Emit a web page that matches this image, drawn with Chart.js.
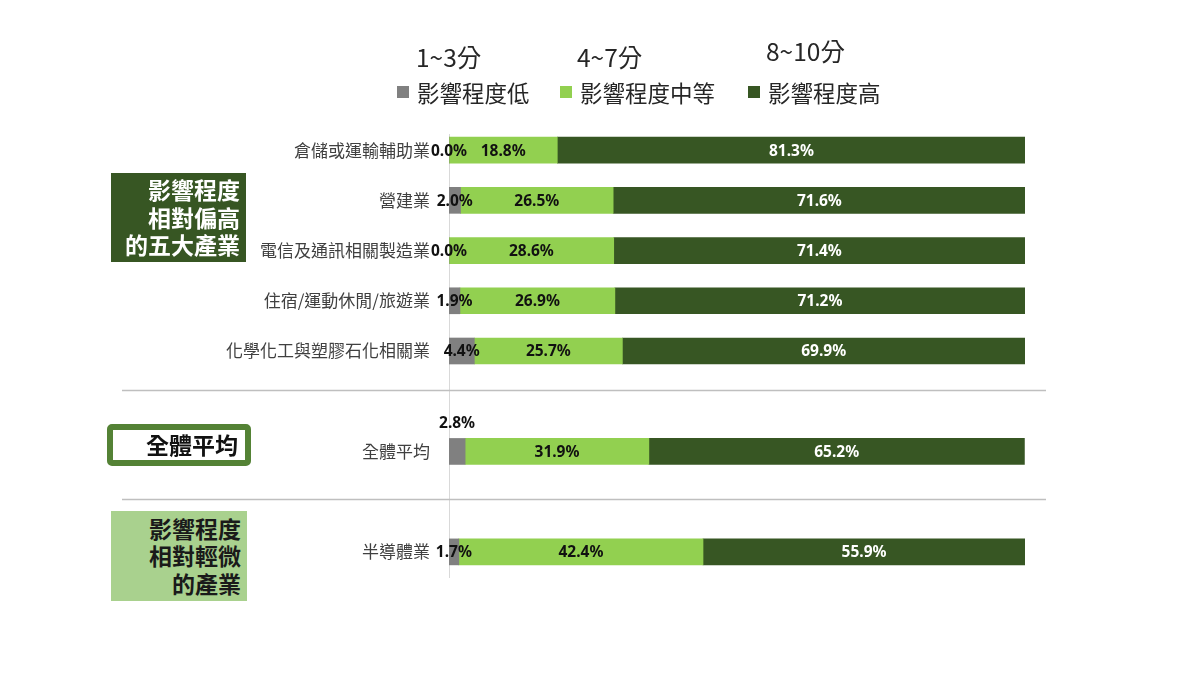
<!DOCTYPE html>
<html>
<head>
<meta charset="utf-8">
<script src="https://cdn.jsdelivr.net/npm/chart.js@4/dist/chart.umd.min.js"></script>
<style>
  html, body { margin: 0; padding: 0; background: #ffffff; }
  #wrap { position: relative; width: 1200px; height: 675px; overflow: hidden; font-family: "Noto Sans CJK TC", "Noto Sans", sans-serif; }
  #chart { position: absolute; left: 0; top: 0; }
  .score { position: absolute; font-size: 24.5px; color: #262626; line-height: 1; white-space: nowrap; }
  .leg { position: absolute; font-size: 22.5px; color: #262626; line-height: 1; white-space: nowrap; display: flex; align-items: center; }
  .leg i { display: inline-block; width: 12px; height: 12px; margin-right: 8px; }
  .box { position: absolute; box-sizing: border-box; display: flex; flex-direction: column; justify-content: center; align-items: flex-end; font-weight: bold; font-size: 23px; line-height: 27.5px; white-space: nowrap; }
</style>
</head>
<body>
<div id="wrap">
  <canvas id="chart" width="1200" height="675"></canvas>
</div>
<script>
// ---- data ----
const categories = ['倉儲或運輸輔助業', '營建業', '電信及通訊相關製造業', '住宿/運動休閒/旅遊業', '化學化工與塑膠石化相關業', '全體平均', '半導體業'];
const lowShare  = [0.0, 2.0, 0.0, 1.9, 4.4, 2.8, 1.7];
const midShare  = [18.8, 26.5, 28.6, 26.9, 25.7, 31.9, 42.4];
const highShare = [81.3, 71.6, 71.4, 71.2, 69.9, 65.2, 55.9];
const groupSizes = [5, 1, 1];
const seriesNames = ['影響程度低', '影響程度中等', '影響程度高'];
const scoreRanges = ['1~3分', '4~7分', '8~10分'];
const groupTitles = [['影響程度', '相對偏高', '的五大產業'], ['全體平均'], ['影響程度', '相對輕微', '的產業']];
const averageName = '全體平均';

// ---- styles ----
const seriesColors = ['#808080', '#92d050', '#375623'];
const labelColors = ['#111111', '#111111', '#ffffff'];

// build slots with spacer rows between groups
const slotLabels = [];
const slotLow = [], slotMid = [], slotHigh = [];
let k = 0;
groupSizes.forEach((n, gi) => {
  for (let i = 0; i < n; i++, k++) {
    slotLabels.push(categories[k]);
    slotLow.push(lowShare[k]); slotMid.push(midShare[k]); slotHigh.push(highShare[k]);
  }
  if (gi < groupSizes.length - 1) {
    slotLabels.push(''); slotLow.push(null); slotMid.push(null); slotHigh.push(null);
  }
});

// ---- HTML legend, score ranges, group boxes ----
const wrap = document.getElementById('wrap');
const scorePos = [[416, 45], [577, 45], [766, 39]];
const legPos = [[397, 81], [560, 81], [748, 81]];
seriesNames.forEach((name, i) => {
  const s = document.createElement('div');
  s.className = 'score';
  s.style.left = scorePos[i][0] + 'px'; s.style.top = scorePos[i][1] + 'px';
  s.textContent = scoreRanges[i];
  wrap.appendChild(s);
  const l = document.createElement('div');
  l.className = 'leg';
  l.style.left = legPos[i][0] + 'px'; l.style.top = legPos[i][1] + 'px';
  l.innerHTML = '<i style="background:' + seriesColors[i] + '"></i><span>' + name + '</span>';
  wrap.appendChild(l);
});
const boxStyles = [
  {left: 111, top: 173, width: 135, height: 89, background: '#375623', color: '#ffffff', paddingRight: '6px', border: 'none'},
  {left: 107, top: 424, width: 144, height: 42, background: '#ffffff', color: '#111111', paddingRight: '7px', border: '6px solid #548235', borderRadius: '5px'},
  {left: 111, top: 511, width: 136, height: 90, background: '#a9d18e', color: '#1a1a1a', paddingRight: '6px', border: 'none'}
];
groupTitles.forEach((lines, i) => {
  const b = document.createElement('div');
  b.className = 'box';
  const st = boxStyles[i];
  b.style.left = st.left + 'px'; b.style.top = st.top + 'px';
  b.style.width = st.width + 'px'; b.style.height = st.height + 'px';
  b.style.background = st.background; b.style.color = st.color;
  b.style.paddingRight = st.paddingRight; b.style.border = st.border;
  if (st.borderRadius) b.style.borderRadius = st.borderRadius;
  lines.forEach(t => { const d = document.createElement('div'); d.textContent = t; b.appendChild(d); });
  wrap.appendChild(b);
});

// ---- plugins ----
const decor = {
  id: 'decor',
  beforeDatasetsDraw(chart) {
    const {ctx, chartArea, scales: {x, y}} = chart;
    ctx.save();
    // zero line
    const x0 = Math.round(x.getPixelForValue(0)) + 0.5;
    ctx.strokeStyle = '#d9d9d9';
    ctx.lineWidth = 1;
    ctx.beginPath();
    ctx.moveTo(x0, chartArea.top + 9);
    ctx.lineTo(x0, chartArea.bottom + 1);
    ctx.stroke();
    // group separators
    ctx.strokeStyle = '#bfbfbf';
    ctx.lineWidth = 1.5;
    [4.77, 6.95].forEach(v => {
      const py = Math.round(y.getPixelForValue(v)) + 0.5;
      ctx.beginPath();
      ctx.moveTo(122, py);
      ctx.lineTo(1046, py);
      ctx.stroke();
    });
    ctx.restore();
  },
  afterDatasetsDraw(chart) {
    const {ctx} = chart;
    ctx.save();
    ctx.font = 'bold 15.5px "Noto Sans", sans-serif';
    ctx.textAlign = 'center';
    ctx.textBaseline = 'middle';
    chart.data.datasets.forEach((ds, di) => {
      const meta = chart.getDatasetMeta(di);
      meta.data.forEach((bar, i) => {
        const v = ds.data[i];
        if (v === null || v === undefined) return;
        const cx = (bar.x + bar.base) / 2;
        let cy = bar.y + 1;
        if (di === 0 && chart.data.labels[i] === averageName) {
          cy = bar.y - bar.height / 2 - 15;
        }
        ctx.fillStyle = labelColors[di];
        ctx.fillText(v.toFixed(1) + '%', cx, cy);
      });
    });
    ctx.restore();
  }
};

new Chart(document.getElementById('chart'), {
  type: 'bar',
  data: {
    labels: slotLabels,
    datasets: [
      {label: seriesNames[0], data: slotLow, backgroundColor: seriesColors[0]},
      {label: seriesNames[1], data: slotMid, backgroundColor: seriesColors[1]},
      {label: seriesNames[2], data: slotHigh, backgroundColor: seriesColors[2]}
    ]
  },
  options: {
    indexAxis: 'y',
    responsive: false,
    animation: false,
    maintainAspectRatio: false,
    layout: {padding: {top: 125, bottom: 98, right: 175, left: 0}},
    datasets: {bar: {barThickness: 26, borderWidth: 0}},
    plugins: {legend: {display: false}, tooltip: {enabled: false}},
    scales: {
      x: {stacked: true, min: 0, max: 100, display: false},
      y: {
        stacked: true,
        grid: {display: false, drawTicks: false},
        border: {display: false},
        ticks: {
          autoSkip: false,
          padding: 19,
          color: '#404040',
          font: {family: '"Noto Sans CJK TC", sans-serif', size: 17}
        },
        afterFit(scale) { scale.width = 449; }
      }
    }
  },
  plugins: [decor]
});
</script>
</body>
</html>
